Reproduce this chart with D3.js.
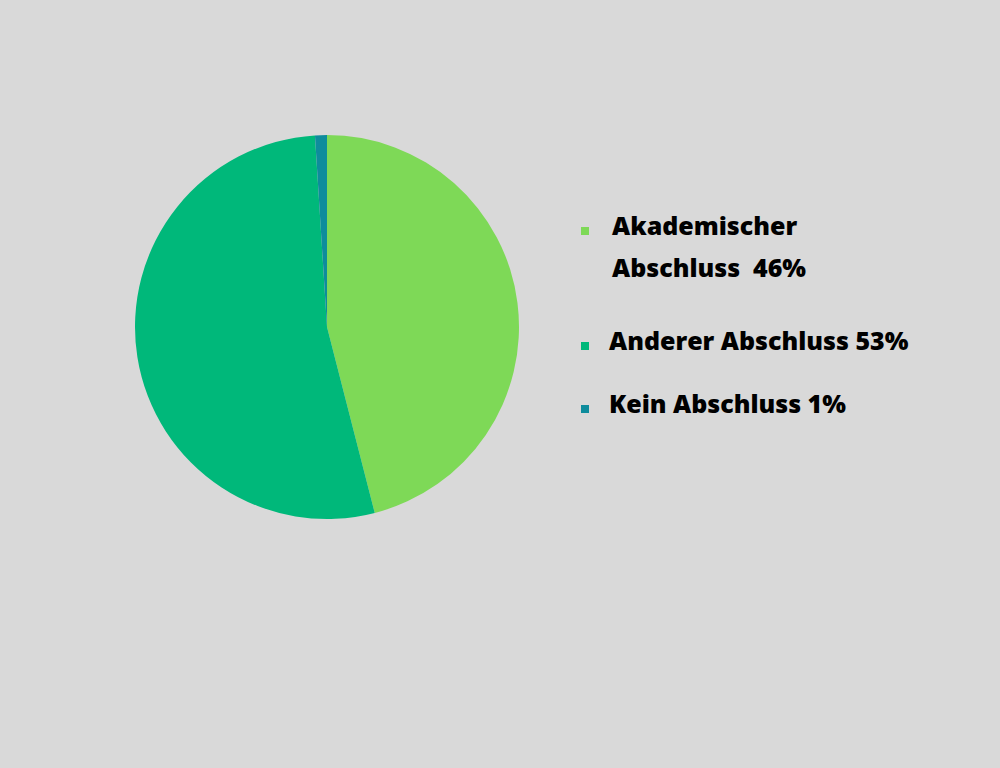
<!DOCTYPE html>
<html>
<head>
<meta charset="utf-8">
<script src="https://cdn.jsdelivr.net/npm/d3@7"></script>
<style>
  html, body { margin: 0; padding: 0; background: #d9d9d9; }
  #chart { width: 1000px; height: 768px; }
</style>
</head>
<body>
<div id="chart"></div>
<script>
const categories = ['Akademischer Abschluss', 'Anderer Abschluss', 'Kein Abschluss'];
const shares = [46, 53, 1];
const legendLines = [
    ['Akademischer', 'Abschluss  46%'],
    ['Anderer Abschluss 53%'],
    ['Kein Abschluss 1%']
];
const colors = ['#7ed957', '#00b87a', '#0e8c9c'];

document.addEventListener('DOMContentLoaded', function() {
    const width = 1000;
    const height = 768;

    const svg = d3.select('#chart')
        .append('svg')
        .attr('width', width)
        .attr('height', height)
        .style('background-color', '#d9d9d9');

    const data = categories.map((c, i) => ({ name: c, value: shares[i], color: colors[i] }));

    const pie = d3.pie()
        .value(d => d.value)
        .sort(null);

    const arc = d3.arc()
        .innerRadius(0)
        .outerRadius(192);

    // pie, starts at 12 o'clock and runs clockwise
    svg.append('g')
        .attr('transform', 'translate(327,327)')
        .selectAll('path')
        .data(pie(data))
        .enter()
        .append('path')
        .attr('d', arc)
        .attr('fill', d => d.data.color);

    // legend
    const legendY = [235, 350, 413];
    const legend = svg.append('g');

    legendLines.forEach((lines, i) => {
        legend.append('rect')
            .attr('x', 581)
            .attr('y', legendY[i] - 8)
            .attr('width', 8)
            .attr('height', 8)
            .attr('fill', colors[i]);

        const text = legend.append('text')
            .attr('x', i === 0 ? 612 : 609)
            .attr('y', legendY[i])
            .style('font-family', '"Open Sans", sans-serif')
            .style('font-weight', '800')
            .style('font-size', '25px')
            .style('fill', '#000')
            .attr('xml:space', 'preserve');

        lines.forEach((line, j) => {
            text.append('tspan')
                .attr('x', i === 0 ? 612 : 609)
                .attr('dy', j === 0 ? 0 : 42)
                .text(line);
        });
    });
});
</script>
</body>
</html>
